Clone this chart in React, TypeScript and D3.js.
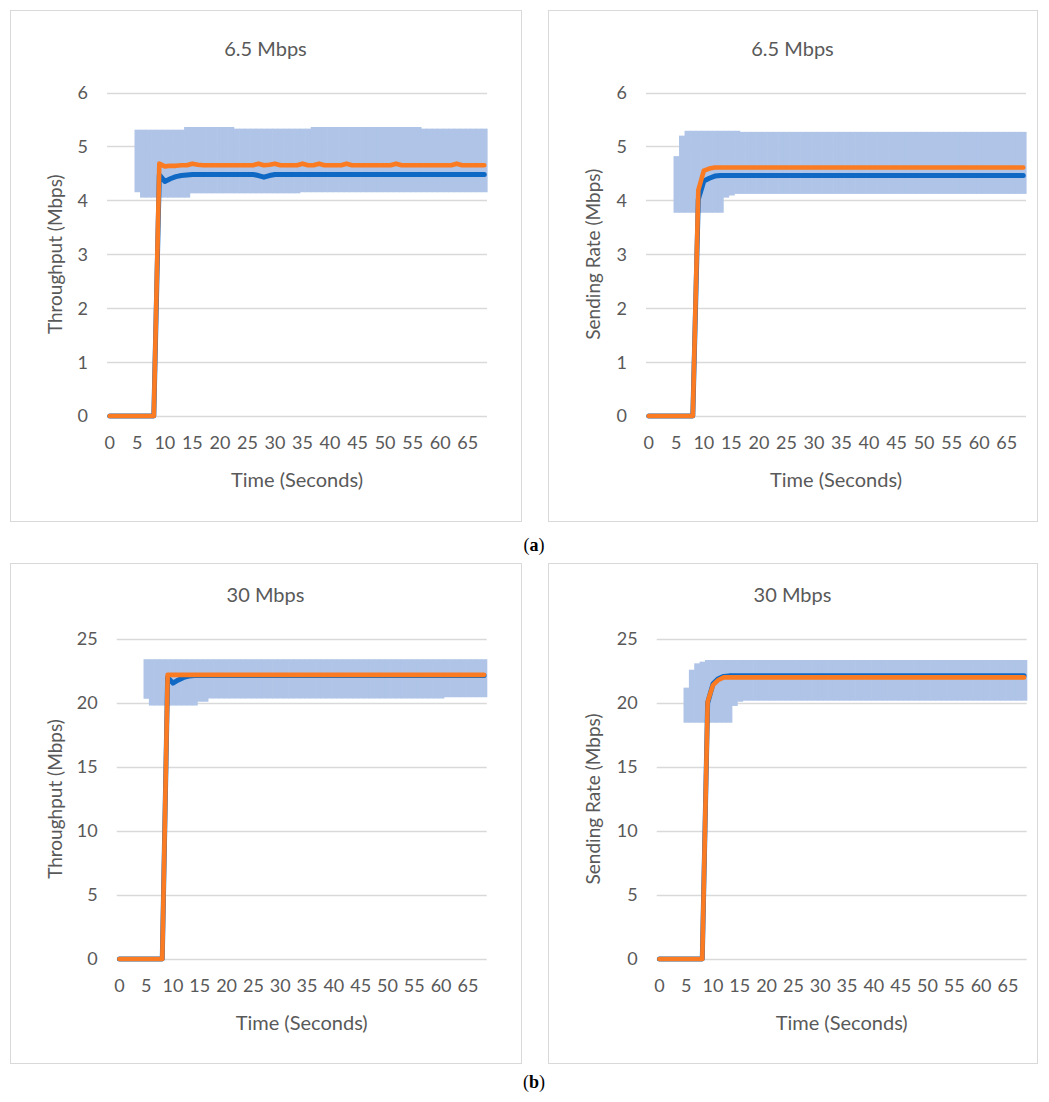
import React from "react";
import * as d3 from "d3";

// ---------- categories / ticks ----------
const seconds: number[] = d3.range(0, 69);
const xTickLabels = [0, 5, 10, 15, 20, 25, 30, 35, 40, 45, 50, 55, 60, 65];
const yTicksTop = [0, 1, 2, 3, 4, 5, 6];
const yTicksBottom = [0, 5, 10, 15, 20, 25];

const N = null;

// ---------- (a) 6.5 Mbps : throughput ----------
const tpA_orange = [
  0, 0, 0, 0, 0, 0, 0, 0, 0, 4.68,
  4.63, 4.64, 4.64, 4.65, 4.65, 4.68, 4.66, 4.65, 4.65, 4.65,
  4.65, 4.65, 4.65, 4.65, 4.65, 4.65, 4.65, 4.68, 4.65, 4.66,
  4.68, 4.65, 4.65, 4.65, 4.65, 4.68, 4.65, 4.65, 4.68, 4.65,
  4.65, 4.65, 4.65, 4.68, 4.65, 4.65, 4.65, 4.65, 4.65, 4.65,
  4.65, 4.65, 4.68, 4.65, 4.65, 4.65, 4.65, 4.65, 4.65, 4.65,
  4.65, 4.65, 4.65, 4.68, 4.65, 4.65, 4.65, 4.65, 4.65,
];
const tpA_blue = [
  0, 0, 0, 0, 0, 0, 0, 0, 0, 4.47,
  4.35, 4.4, 4.44, 4.46, 4.47, 4.48, 4.48, 4.48, 4.48, 4.48,
  4.48, 4.48, 4.48, 4.48, 4.48, 4.48, 4.48, 4.46, 4.43, 4.46,
  4.48, 4.48, 4.48, 4.48, 4.48, 4.48, 4.48, 4.48, 4.48, 4.48,
  4.48, 4.48, 4.48, 4.48, 4.48, 4.48, 4.48, 4.48, 4.48, 4.48,
  4.48, 4.48, 4.48, 4.48, 4.48, 4.48, 4.48, 4.48, 4.48, 4.48,
  4.48, 4.48, 4.48, 4.48, 4.48, 4.48, 4.48, 4.48, 4.48,
];
const tpA_high = [
  N, N, N, N, N, 5.31, 5.31, 5.31, 5.31, 5.31,
  5.31, 5.31, 5.31, 5.31, 5.36, 5.36, 5.36, 5.36, 5.36, 5.36,
  5.36, 5.36, 5.36, 5.33, 5.33, 5.33, 5.33, 5.33, 5.33, 5.33,
  5.33, 5.33, 5.33, 5.33, 5.33, 5.33, 5.33, 5.36, 5.36, 5.36,
  5.36, 5.36, 5.36, 5.36, 5.36, 5.36, 5.36, 5.36, 5.36, 5.36,
  5.36, 5.36, 5.36, 5.36, 5.36, 5.36, 5.36, 5.33, 5.33, 5.33,
  5.33, 5.33, 5.33, 5.33, 5.33, 5.33, 5.33, 5.33, 5.33,
];
const tpA_low = [
  N, N, N, N, N, 4.15, 4.05, 4.05, 4.05, 4.05,
  4.05, 4.05, 4.05, 4.05, 4.05, 4.13, 4.13, 4.13, 4.13, 4.13,
  4.13, 4.13, 4.13, 4.13, 4.13, 4.13, 4.13, 4.13, 4.13, 4.13,
  4.13, 4.13, 4.13, 4.13, 4.13, 4.15, 4.15, 4.15, 4.15, 4.15,
  4.15, 4.15, 4.15, 4.15, 4.15, 4.15, 4.15, 4.15, 4.15, 4.15,
  4.15, 4.15, 4.15, 4.15, 4.15, 4.15, 4.15, 4.15, 4.15, 4.15,
  4.15, 4.15, 4.15, 4.15, 4.15, 4.15, 4.15, 4.15, 4.15,
];

// ---------- (a) 6.5 Mbps : sending rate ----------
const srA_orange = [
  0, 0, 0, 0, 0, 0, 0, 0, 0, 4.19,
  4.55, 4.59, 4.61, 4.61, 4.61, 4.61, 4.61, 4.61, 4.61, 4.61,
  4.61, 4.61, 4.61, 4.61, 4.61, 4.61, 4.61, 4.61, 4.61, 4.61,
  4.61, 4.61, 4.61, 4.61, 4.61, 4.61, 4.61, 4.61, 4.61, 4.61,
  4.61, 4.61, 4.61, 4.61, 4.61, 4.61, 4.61, 4.61, 4.61, 4.61,
  4.61, 4.61, 4.61, 4.61, 4.61, 4.61, 4.61, 4.61, 4.61, 4.61,
  4.61, 4.61, 4.61, 4.61, 4.61, 4.61, 4.61, 4.61, 4.61,
];
const srA_blue = [
  0, 0, 0, 0, 0, 0, 0, 0, 0, 4.02,
  4.36, 4.41, 4.45, 4.46, 4.46, 4.46, 4.46, 4.46, 4.46, 4.46,
  4.46, 4.46, 4.46, 4.46, 4.46, 4.46, 4.46, 4.46, 4.46, 4.46,
  4.46, 4.46, 4.46, 4.46, 4.46, 4.46, 4.46, 4.46, 4.46, 4.46,
  4.46, 4.46, 4.46, 4.46, 4.46, 4.46, 4.46, 4.46, 4.46, 4.46,
  4.46, 4.46, 4.46, 4.46, 4.46, 4.46, 4.46, 4.46, 4.46, 4.46,
  4.46, 4.46, 4.46, 4.46, 4.46, 4.46, 4.46, 4.46, 4.46,
];
const srA_high = [
  N, N, N, N, N, 4.82, 5.2, 5.29, 5.29, 5.29,
  5.29, 5.29, 5.29, 5.29, 5.29, 5.29, 5.29, 5.27, 5.27, 5.27,
  5.27, 5.27, 5.27, 5.27, 5.27, 5.27, 5.27, 5.27, 5.27, 5.27,
  5.27, 5.27, 5.27, 5.27, 5.27, 5.27, 5.27, 5.27, 5.27, 5.27,
  5.27, 5.27, 5.27, 5.27, 5.27, 5.27, 5.27, 5.27, 5.27, 5.27,
  5.27, 5.27, 5.27, 5.27, 5.27, 5.27, 5.27, 5.27, 5.27, 5.27,
  5.27, 5.27, 5.27, 5.27, 5.27, 5.27, 5.27, 5.27, 5.27,
];
const srA_low = [
  N, N, N, N, N, 3.77, 3.77, 3.77, 3.77, 3.77,
  3.77, 3.77, 3.77, 3.77, 4.05, 4.09, 4.12, 4.12, 4.12, 4.12,
  4.12, 4.12, 4.12, 4.12, 4.12, 4.12, 4.12, 4.12, 4.12, 4.12,
  4.12, 4.12, 4.12, 4.12, 4.12, 4.12, 4.12, 4.12, 4.12, 4.12,
  4.12, 4.12, 4.12, 4.12, 4.12, 4.12, 4.12, 4.12, 4.12, 4.12,
  4.12, 4.12, 4.12, 4.12, 4.12, 4.12, 4.12, 4.12, 4.12, 4.12,
  4.12, 4.12, 4.12, 4.12, 4.12, 4.12, 4.12, 4.12, 4.12,
];

// ---------- (b) 30 Mbps : throughput ----------
const tpB_orange = [
  0, 0, 0, 0, 0, 0, 0, 0, 0, 22.2,
  22.2, 22.2, 22.2, 22.2, 22.2, 22.2, 22.2, 22.2, 22.2, 22.2,
  22.2, 22.2, 22.2, 22.2, 22.2, 22.2, 22.2, 22.2, 22.2, 22.2,
  22.2, 22.2, 22.2, 22.2, 22.2, 22.2, 22.2, 22.2, 22.2, 22.2,
  22.2, 22.2, 22.2, 22.2, 22.2, 22.2, 22.2, 22.2, 22.2, 22.2,
  22.2, 22.2, 22.2, 22.2, 22.2, 22.2, 22.2, 22.2, 22.2, 22.2,
  22.2, 22.2, 22.2, 22.2, 22.2, 22.2, 22.2, 22.2, 22.2,
];
const tpB_blue = [
  0, 0, 0, 0, 0, 0, 0, 0, 0, 22.0,
  21.55, 21.8, 22.0, 22.1, 22.15, 22.15, 22.15, 22.15, 22.15, 22.15,
  22.15, 22.15, 22.15, 22.15, 22.15, 22.15, 22.15, 22.15, 22.15, 22.15,
  22.15, 22.15, 22.15, 22.15, 22.15, 22.15, 22.15, 22.15, 22.15, 22.15,
  22.15, 22.15, 22.15, 22.15, 22.15, 22.15, 22.15, 22.15, 22.15, 22.15,
  22.15, 22.15, 22.15, 22.15, 22.15, 22.15, 22.15, 22.15, 22.15, 22.15,
  22.15, 22.15, 22.15, 22.15, 22.15, 22.15, 22.15, 22.15, 22.15,
];
const tpB_high = [
  N, N, N, N, N, 23.42, 23.42, 23.42, 23.42, 23.42,
  23.42, 23.42, 23.42, 23.42, 23.42, 23.42, 23.42, 23.42, 23.42, 23.42,
  23.42, 23.42, 23.42, 23.42, 23.42, 23.42, 23.42, 23.42, 23.42, 23.42,
  23.42, 23.42, 23.42, 23.42, 23.42, 23.42, 23.42, 23.42, 23.42, 23.42,
  23.42, 23.42, 23.42, 23.42, 23.42, 23.42, 23.42, 23.42, 23.42, 23.42,
  23.42, 23.42, 23.42, 23.42, 23.42, 23.42, 23.42, 23.42, 23.42, 23.42,
  23.42, 23.42, 23.42, 23.42, 23.42, 23.42, 23.42, 23.42, 23.42,
];
const tpB_low = [
  N, N, N, N, N, 20.33, 19.8, 19.8, 19.8, 19.8,
  19.8, 19.8, 19.8, 19.8, 19.8, 20.1, 20.1, 20.35, 20.35, 20.35,
  20.35, 20.35, 20.35, 20.35, 20.35, 20.35, 20.35, 20.35, 20.35, 20.35,
  20.35, 20.35, 20.35, 20.35, 20.35, 20.35, 20.35, 20.35, 20.35, 20.35,
  20.35, 20.35, 20.35, 20.35, 20.35, 20.35, 20.35, 20.35, 20.35, 20.35,
  20.35, 20.35, 20.35, 20.35, 20.35, 20.35, 20.35, 20.35, 20.35, 20.35,
  20.35, 20.45, 20.45, 20.45, 20.45, 20.45, 20.45, 20.45, 20.45,
];

// ---------- (b) 30 Mbps : sending rate ----------
const srB_orange = [
  0, 0, 0, 0, 0, 0, 0, 0, 0, 20.1,
  21.4, 21.8, 22.0, 22.0, 22.0, 22.0, 22.0, 22.0, 22.0, 22.0,
  22.0, 22.0, 22.0, 22.0, 22.0, 22.0, 22.0, 22.0, 22.0, 22.0,
  22.0, 22.0, 22.0, 22.0, 22.0, 22.0, 22.0, 22.0, 22.0, 22.0,
  22.0, 22.0, 22.0, 22.0, 22.0, 22.0, 22.0, 22.0, 22.0, 22.0,
  22.0, 22.0, 22.0, 22.0, 22.0, 22.0, 22.0, 22.0, 22.0, 22.0,
  22.0, 22.0, 22.0, 22.0, 22.0, 22.0, 22.0, 22.0, 22.0,
];
const srB_blue = [
  0, 0, 0, 0, 0, 0, 0, 0, 0, 20.0,
  21.5, 21.9, 22.08, 22.12, 22.12, 22.12, 22.12, 22.12, 22.12, 22.12,
  22.12, 22.12, 22.12, 22.12, 22.12, 22.12, 22.12, 22.12, 22.12, 22.12,
  22.12, 22.12, 22.12, 22.12, 22.12, 22.12, 22.12, 22.12, 22.12, 22.12,
  22.12, 22.12, 22.12, 22.12, 22.12, 22.12, 22.12, 22.12, 22.12, 22.12,
  22.12, 22.12, 22.12, 22.12, 22.12, 22.12, 22.12, 22.12, 22.12, 22.12,
  22.12, 22.12, 22.12, 22.12, 22.12, 22.12, 22.12, 22.12, 22.12,
];
const srB_high = [
  N, N, N, N, N, 21.2, 22.6, 23.1, 23.23, 23.36,
  23.36, 23.36, 23.36, 23.36, 23.36, 23.36, 23.36, 23.36, 23.36, 23.36,
  23.36, 23.36, 23.36, 23.36, 23.36, 23.36, 23.36, 23.36, 23.36, 23.36,
  23.36, 23.36, 23.36, 23.36, 23.36, 23.36, 23.36, 23.36, 23.36, 23.36,
  23.36, 23.36, 23.36, 23.36, 23.36, 23.36, 23.36, 23.36, 23.36, 23.36,
  23.36, 23.36, 23.36, 23.36, 23.36, 23.36, 23.36, 23.36, 23.36, 23.36,
  23.36, 23.36, 23.36, 23.36, 23.36, 23.36, 23.36, 23.36, 23.36,
];
const srB_low = [
  N, N, N, N, N, 18.46, 18.46, 18.46, 18.46, 18.46,
  18.46, 18.46, 18.46, 18.46, 19.77, 20.1, 20.18, 20.18, 20.18, 20.18,
  20.18, 20.18, 20.18, 20.18, 20.18, 20.18, 20.18, 20.18, 20.18, 20.18,
  20.18, 20.18, 20.18, 20.18, 20.18, 20.18, 20.18, 20.18, 20.18, 20.18,
  20.18, 20.18, 20.18, 20.18, 20.18, 20.18, 20.18, 20.18, 20.18, 20.18,
  20.18, 20.18, 20.18, 20.18, 20.18, 20.18, 20.18, 20.18, 20.18, 20.18,
  20.18, 20.18, 20.18, 20.18, 20.18, 20.18, 20.18, 20.18, 20.18,
];

// ---------- styles ----------
const FONT = "Lato, 'Open Sans', sans-serif";
const TEXT = "#595959";
const GRID = "#D9D9D9";
const BAND = "#AFC4E7";
const BLUE = "#0E68C4";
const ORANGE = "#FA7B22";

type PanelProps = {
  box: [number, number, number, number];
  plot: { left: number; right: number; top: number; bottom: number };
  title: string;
  yTitle: string;
  yMax: number;
  yTicks: number[];
  high: (number | null)[];
  low: (number | null)[];
  blue: number[];
  orange: number[];
};

function Panel(p: PanelProps) {
  const { plot } = p;
  const x = d3.scaleBand<number>().domain(seconds).range([plot.left, plot.right]).padding(0);
  const bw = x.bandwidth();
  const y = d3.scaleLinear().domain([0, p.yMax]).range([plot.bottom, plot.top]);
  const cx = (t: number) => (x(t) as number) + bw / 2;
  const line = d3
    .line<number>()
    .x((_, i) => cx(seconds[i]))
    .y((v) => y(v));
  const [bx, by, bwid, bh] = p.box;
  const midX = (plot.left + plot.right) / 2;
  const midY = (plot.top + plot.bottom) / 2;
  const yTitleX = bx + 45;
  return (
    <g>
      <rect x={bx + 0.5} y={by + 0.5} width={bwid} height={bh} fill="#fff" stroke={GRID} strokeWidth={1} />
      <text x={bx + bwid / 2} y={plot.top - 37} textAnchor="middle" fontFamily={FONT} fontSize={20} fill={TEXT}>
        {p.title}
      </text>
      {p.yTicks.map((v) => (
        <g key={v}>
          <line x1={plot.left} x2={plot.right} y1={Math.round(y(v)) + 0.5} y2={Math.round(y(v)) + 0.5} stroke={GRID} strokeWidth={1.3} />
          <text x={plot.left - 19} y={y(v)} dy="0.36em" textAnchor="end" fontFamily={FONT} fontSize={18} fill={TEXT}>
            {v}
          </text>
        </g>
      ))}
      {seconds.map((t, i) => {
        const h = p.high[i];
        const l = p.low[i];
        if (h == null || l == null) return null;
        return <rect key={t} x={x(t)} y={y(h)} width={bw + 0.6} height={y(l) - y(h)} fill={BAND} />;
      })}
      <path d={line(p.blue) || ""} fill="none" stroke={BLUE} strokeWidth={5} strokeLinejoin="round" strokeLinecap="round" />
      <path d={line(p.orange) || ""} fill="none" stroke={ORANGE} strokeWidth={4.6} strokeLinejoin="round" strokeLinecap="round" />
      {xTickLabels.map((t) => (
        <text key={t} x={cx(t)} y={plot.bottom + 33} textAnchor="middle" fontFamily={FONT} fontSize={18} fill={TEXT}>
          {t}
        </text>
      ))}
      <text x={midX} y={plot.bottom + 71} textAnchor="middle" fontFamily={FONT} fontSize={20} fill={TEXT}>
        Time (Seconds)
      </text>
      <text
        transform={`translate(${yTitleX},${midY}) rotate(-90)`}
        dy="0.36em"
        textAnchor="middle"
        fontFamily={FONT}
        fontSize={19}
        fill={TEXT}
      >
        {p.yTitle}
      </text>
    </g>
  );
}

export default function App() {
  const W = 1049;
  const H = 1102;
  return (
    <svg width={W} height={H} style={{ position: "absolute", left: 0, top: 0, background: "#fff" }}>
      <rect width={W} height={H} fill="#fff" />
      <Panel
        box={[10, 10, 511, 511]}
        plot={{ left: 107, right: 487, top: 92.5, bottom: 416 }}
        title="6.5 Mbps"
        yTitle="Throughput (Mbps)"
        yMax={6}
        yTicks={yTicksTop}
        high={tpA_high}
        low={tpA_low}
        blue={tpA_blue}
        orange={tpA_orange}
      />
      <Panel
        box={[548, 10, 489, 511]}
        plot={{ left: 646, right: 1026, top: 92.5, bottom: 416 }}
        title="6.5 Mbps"
        yTitle="Sending Rate (Mbps)"
        yMax={6}
        yTicks={yTicksTop}
        high={srA_high}
        low={srA_low}
        blue={srA_blue}
        orange={srA_orange}
      />
      <Panel
        box={[10, 563, 511, 500]}
        plot={{ left: 116.7, right: 486.7, top: 639, bottom: 959 }}
        title="30 Mbps"
        yTitle="Throughput (Mbps)"
        yMax={25}
        yTicks={yTicksBottom}
        high={tpB_high}
        low={tpB_low}
        blue={tpB_blue}
        orange={tpB_orange}
      />
      <Panel
        box={[548, 563, 489, 500]}
        plot={{ left: 656.7, right: 1026.7, top: 639, bottom: 959 }}
        title="30 Mbps"
        yTitle="Sending Rate (Mbps)"
        yMax={25}
        yTicks={yTicksBottom}
        high={srB_high}
        low={srB_low}
        blue={srB_blue}
        orange={srB_orange}
      />
      <text x={534} y={551} textAnchor="middle" fontFamily="'Liberation Serif', 'DejaVu Serif', serif" fontSize={18} fill="#000">
        (<tspan fontWeight="bold">a</tspan>)
      </text>
      <text x={534} y={1088} textAnchor="middle" fontFamily="'Liberation Serif', 'DejaVu Serif', serif" fontSize={18} fill="#000">
        (<tspan fontWeight="bold">b</tspan>)
      </text>
    </svg>
  );
}
